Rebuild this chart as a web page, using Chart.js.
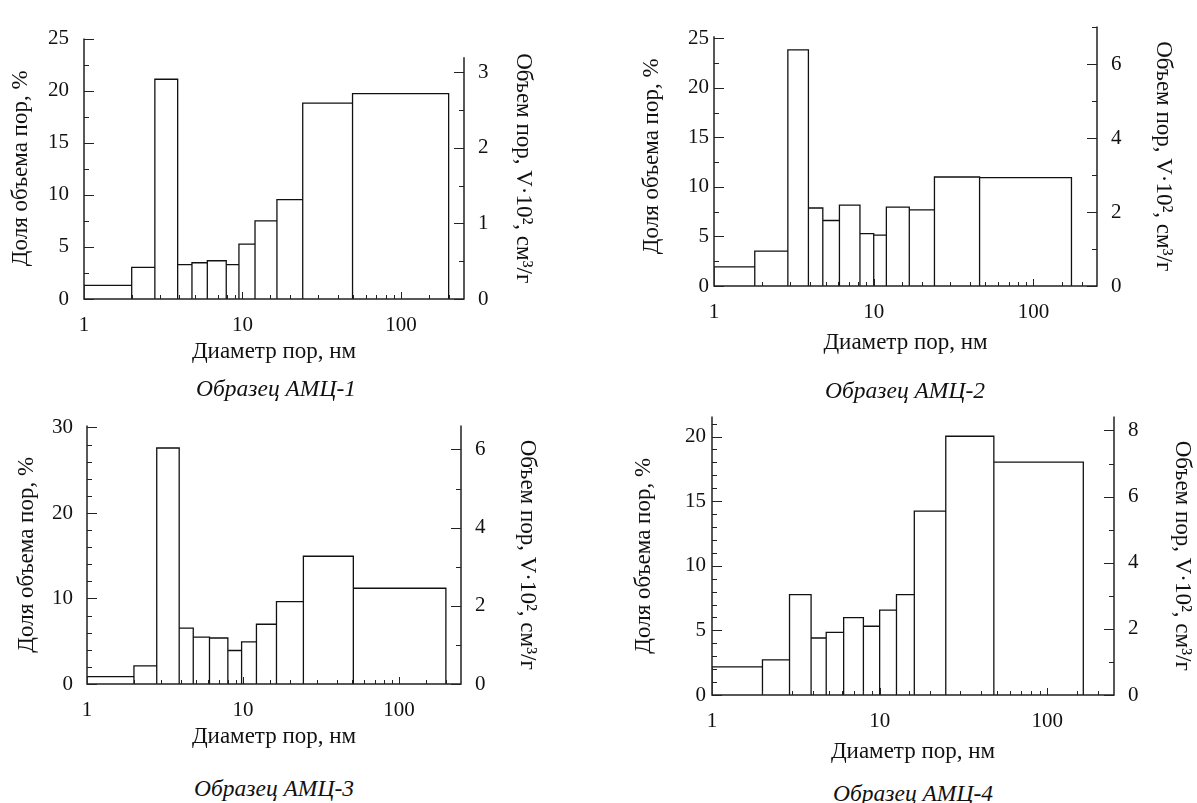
<!DOCTYPE html>
<html>
<head>
<meta charset="utf-8">
<script src="https://cdn.jsdelivr.net/npm/chart.js@4.4.1/dist/chart.umd.min.js"></script>
<style>
body { margin: 0; background: #fff; width: 1197px; height: 803px; position: relative; overflow: hidden; font-family: 'Liberation Serif', serif; }
canvas { position: absolute; }
.caption { position: absolute; font-style: italic; font-size: 23.5px; line-height: 24px; color: #111; transform: translateX(-50%); white-space: nowrap; }
</style>
</head>
<body>
<canvas id="amc1"></canvas>
<canvas id="amc2"></canvas>
<canvas id="amc3"></canvas>
<canvas id="amc4"></canvas>
<div class="caption" style="left:276px; top:376px">Образец АМЦ-1</div>
<div class="caption" style="left:905px; top:378px">Образец АМЦ-2</div>
<div class="caption" style="left:274px; top:776px">Образец АМЦ-3</div>
<div class="caption" style="left:913px; top:781px">Образец АМЦ-4</div>
<script>
// bin edges (nm) and share of pore volume (%) for each sample
const edges_1 = [1, 2, 2.8, 3.9, 4.8, 6, 7.9, 9.5, 12, 16.5, 24, 49.5, 200];
const share_1 = [1.31, 3.03, 21.09, 3.3, 3.48, 3.67, 3.3, 5.26, 7.49, 9.54, 18.8, 19.71];

const edges_2 = [1, 1.8, 2.9, 3.9, 4.8, 6.1, 8.2, 10, 12, 16.7, 24, 46, 173];
const share_2 = [1.94, 3.52, 23.84, 7.87, 6.61, 8.16, 5.29, 5.13, 7.97, 7.68, 11.0, 10.94];

const edges_3 = [1, 2, 2.8, 3.9, 4.8, 6.1, 8, 9.8, 12.2, 16.4, 24.4, 51, 200];
const share_3 = [0.86, 2.13, 27.6, 6.54, 5.49, 5.38, 3.92, 4.93, 6.99, 9.64, 14.94, 11.2];

const edges_4 = [1, 2, 2.9, 3.9, 4.8, 6.1, 8, 10, 12.6, 16.1, 24.8, 48, 164];
const share_4 = [2.18, 2.72, 7.77, 4.41, 4.85, 5.99, 5.32, 6.56, 7.77, 14.23, 20.02, 18.02];

// tick labels
const x_labels = [1, 10, 100];
const left_labels_1 = [0, 5, 10, 15, 20, 25];
const right_labels_1 = [0, 1, 2, 3];
const left_labels_2 = [0, 5, 10, 15, 20, 25];
const right_labels_2 = [0, 2, 4, 6];
const left_labels_3 = [0, 10, 20, 30];
const right_labels_3 = [0, 2, 4, 6];
const left_labels_4 = [0, 5, 10, 15, 20];
const right_labels_4 = [0, 2, 4, 6, 8];

const FONT = 'Liberation Serif';
const INK = '#111';

// page geometry of each panel (plot box, axis title centres)
const panels = [
    { id: 'amc1', edges: edges_1, vals: share_1, ll: left_labels_1, rl: right_labels_1,
      L: 84, R: 464, T: 25, B: 299, ltx: 21, rtx: 523, xty: 352,
      lMax: 25.09, rMax: 3.46, lStep: 2.5, rStep: 0.5, lTop: 25, rTop: 3.2, lGap: 15 },
    { id: 'amc2', edges: edges_2, vals: share_2, ll: left_labels_2, rl: right_labels_2,
      L: 714, R: 1097, T: 15, B: 286, ltx: 652, rtx: 1163, xty: 343,
      lMax: 26.18, rMax: 7.02, lStep: 2.5, rStep: 1, lTop: 25.2, rTop: 7.02, lGap: 5 },
    { id: 'amc3', edges: edges_3, vals: share_3, ll: left_labels_3, rl: right_labels_3,
      L: 87, R: 461, T: 414, B: 684, ltx: 27, rtx: 527, xty: 737,
      lMax: 30.22, rMax: 6.61, lStep: 2, rStep: 1, lTop: 30.22, rTop: 6.61, lGap: 14 },
    { id: 'amc4', edges: edges_4, vals: share_4, ll: left_labels_4, rl: right_labels_4,
      L: 712, R: 1114, T: 405, B: 695, ltx: 644, rtx: 1182, xty: 752,
      lMax: 21.54, rMax: 8.42, lStep: 1, rStep: 1, lTop: 21.54, rTop: 8.42, lGap: 6 }
];

// outline of the histogram as one polyline
function outline(edges, vals) {
    const pts = [{ x: edges[0], y: 0 }];
    for (let i = 0; i < vals.length; i++) {
        pts.push({ x: edges[i], y: vals[i] }, { x: edges[i + 1], y: vals[i] }, { x: edges[i + 1], y: 0 });
    }
    return pts;
}

// spines + inward ticks
const frame = {
    id: 'frame',
    afterDraw(chart) {
        const o = chart.options.plugins.frame;
        const c = chart.ctx, a = chart.chartArea;
        const x = chart.scales.x, yl = chart.scales.y, yr = chart.scales.y2;
        c.save();
        c.strokeStyle = '#222';
        c.lineWidth = 1.5;
        c.beginPath();
        c.moveTo(a.left, yl.getPixelForValue(o.lTop));
        c.lineTo(a.left, a.bottom);
        c.lineTo(a.right, a.bottom);
        c.lineTo(a.right, yr.getPixelForValue(o.rTop));
        c.stroke();
        c.lineWidth = 1;
        c.beginPath();
        x.ticks.forEach(t => {
            if (t.value >= x.max || t.value <= x.min) return;
            const px = Math.round(x.getPixelForValue(t.value)) + 0.5;
            const len = x_labels.includes(t.value) ? 7 : 4;
            c.moveTo(px, a.bottom);
            c.lineTo(px, a.bottom - len);
        });
        yl.ticks.forEach(t => {
            if (t.value > o.lTop + 1e-6) return;
            const py = Math.round(yl.getPixelForValue(t.value)) + 0.5;
            const len = o.ll.includes(t.value) ? 10 : 5;
            c.moveTo(a.left, py);
            c.lineTo(a.left + len, py);
        });
        yr.ticks.forEach(t => {
            if (t.value > o.rTop + 1e-6) return;
            const py = Math.round(yr.getPixelForValue(t.value)) + 0.5;
            const len = o.rl.includes(t.value) ? 10 : 5;
            c.moveTo(a.right, py);
            c.lineTo(a.right - len, py);
        });
        c.stroke();
        c.restore();
    }
};

function tickFont() { return { family: FONT, size: 21 }; }
function titleFont() { return { family: FONT, size: 23 }; }

function makePanel(p) {
    const cv = document.getElementById(p.id);
    const off = 14;
    const left = Math.round(p.ltx - off), top = p.T - 15;
    const right = Math.round(p.rtx + off), bottom = Math.round(p.xty + off);
    cv.width = right - left;
    cv.height = bottom - top;
    cv.style.left = left + 'px';
    cv.style.top = top + 'px';
    const wL = p.L - left, wR = right - p.R, hX = bottom - p.B;

    return new Chart(cv, {
        type: 'line',
        data: {
            datasets: [{
                data: outline(p.edges, p.vals),
                borderColor: INK,
                borderWidth: 1.3,
                pointRadius: 0,
                fill: false,
                tension: 0,
                borderJoinStyle: 'miter'
            }]
        },
        options: {
            responsive: false,
            animation: false,
            layout: { padding: { top: 15, left: 0, right: 0, bottom: 0 } },
            plugins: {
                legend: { display: false },
                tooltip: { enabled: false },
                frame: { lTop: p.lTop, rTop: p.rTop, ll: p.ll, rl: p.rl }
            },
            scales: {
                x: {
                    type: 'logarithmic',
                    min: 1,
                    max: 250,
                    grid: { display: false, drawTicks: false },
                    border: { display: false },
                    ticks: {
                        autoSkip: false, maxRotation: 0, padding: 14,
                        font: tickFont(), color: INK,
                        callback: v => x_labels.includes(v) ? String(v) : ''
                    },
                    title: { display: true, text: 'Диаметр пор, нм', font: titleFont(), color: INK, padding: 0 },
                    afterFit: s => { s.height = hX; }
                },
                y: {
                    position: 'left',
                    min: 0,
                    max: p.lMax,
                    grid: { display: false, drawTicks: false },
                    border: { display: false },
                    ticks: {
                        stepSize: p.lStep, includeBounds: false, autoSkip: false, padding: p.lGap,
                        font: tickFont(), color: INK,
                        callback: v => p.ll.includes(v) ? String(v) : ''
                    },
                    title: { display: true, text: 'Доля объема пор, %', font: titleFont(), color: INK, padding: 0 },
                    afterFit: s => { s.width = wL; }
                },
                y2: {
                    position: 'right',
                    min: 0,
                    max: p.rMax,
                    grid: { display: false, drawTicks: false },
                    border: { display: false },
                    ticks: {
                        stepSize: p.rStep, includeBounds: false, autoSkip: false, padding: 14,
                        font: tickFont(), color: INK,
                        callback: v => p.rl.includes(v) ? String(v) : ''
                    },
                    title: { display: true, text: 'Объем пор, V·10², см³/г', font: titleFont(), color: INK, padding: 0 },
                    afterFit: s => { s.width = wR; }
                }
            }
        },
        plugins: [frame]
    });
}

panels.forEach(makePanel);
</script>
</body>
</html>
